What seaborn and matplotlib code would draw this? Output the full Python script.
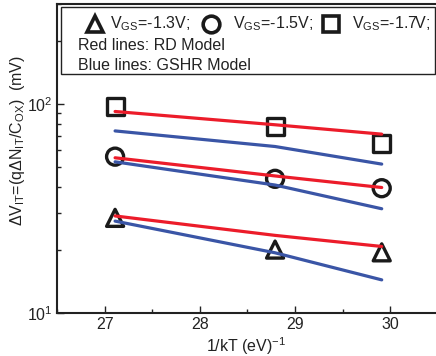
import matplotlib
matplotlib.use("Agg")
import matplotlib.pyplot as plt
from matplotlib.patches import Rectangle
from matplotlib.ticker import LogLocator, MultipleLocator, NullFormatter
import seaborn as sns
import pandas as pd

# ---- data ----
inv_kT = [27.11, 28.79, 29.91]
meas_13 = [28.5, 20.1, 19.5]
meas_15 = [55.9, 43.8, 39.5]
meas_17 = [96.7, 77.9, 64.9]
rd_13 = [29.1, 23.5, 20.8]
rd_15 = [55.2, 45.2, 39.8]
rd_17 = [91.9, 79.4, 71.6]
gshr_13 = [27.5, 19.4, 14.4]
gshr_15 = [52.8, 40.9, 31.5]
gshr_17 = [74.2, 62.5, 51.5]
vgs_labels = ["-1.3", "-1.5", "-1.7"]

sns.set_theme(style="ticks")
plt.rcParams["font.family"] = ["Liberation Sans", "DejaVu Sans"]
plt.rcParams["mathtext.default"] = "regular"
plt.rcParams["mathtext.fontset"] = "custom"
plt.rcParams["mathtext.rm"] = "Liberation Sans"
plt.rcParams["mathtext.it"] = "Liberation Sans"

FS = 11.5
fig = plt.figure(figsize=(4.36, 3.56), dpi=100)
ax = fig.add_axes([57 / 436, 1 - 313 / 356, 1 - 57 / 436, (313 - 4) / 356])

RED = "#ec1c2a"
BLUE = "#3a55a6"
INK = "#222222"

markers = ["^", "o", "s"]
meas = [meas_13, meas_15, meas_17]
rds = [rd_13, rd_15, rd_17]
gshrs = [gshr_13, gshr_15, gshr_17]

for mk, m in zip(markers, meas):
    df = pd.DataFrame({"x": inv_kT, "y": m})
    sns.scatterplot(data=df, x="x", y="y", ax=ax, marker=mk, s=150,
                    facecolor="none", edgecolor="#1a1a1a", linewidth=2.4,
                    zorder=2)

for r in rds:
    df = pd.DataFrame({"x": inv_kT, "y": r})
    sns.lineplot(data=df, x="x", y="y", ax=ax, color=RED, linewidth=2.3,
                 zorder=3)
for g in gshrs:
    df = pd.DataFrame({"x": inv_kT, "y": g})
    sns.lineplot(data=df, x="x", y="y", ax=ax, color=BLUE, linewidth=2.3,
                 zorder=3)

ax.set_yscale("log")
ax.set_ylim(10, 300)
ax.set_xlim(26.5, 30.48)
ax.xaxis.set_major_locator(MultipleLocator(1))
ax.xaxis.set_minor_locator(MultipleLocator(0.5))
ax.yaxis.set_minor_locator(LogLocator(base=10, subs=range(2, 10)))
ax.yaxis.set_minor_formatter(NullFormatter())

ax.tick_params(which="both", direction="in", colors=INK,
               labelsize=FS, labelcolor=INK)
ax.tick_params(which="major", length=5, width=1, pad=3)
ax.tick_params(which="minor", length=3, width=1)
for side in ["left", "bottom", "top"]:
    ax.spines[side].set_linewidth(1.5)
    ax.spines[side].set_color(INK)
ax.spines["right"].set_visible(False)

ax.set_xlabel(r"1/kT (eV)$^{-1}$", fontsize=FS, color=INK, labelpad=2)
ax.set_ylabel(r"$\Delta$V$_{IT}$=(q$\Delta$N$_{IT}$/C$_{OX}$)  (mV)",
              fontsize=FS, color=INK)
ax.yaxis.set_label_coords((27 - 57) / 379, (313 - 141) / 309)

# ---- legend box (custom) ----
def fx(px):
    return (px - 57) / (436 - 57)

def fy(py):
    return (313 - py) / (313 - 4)

ax.add_patch(Rectangle((fx(61), fy(74)), fx(435) - fx(61), fy(7) - fy(74),
                       transform=ax.transAxes, fill=False,
                       edgecolor=INK, linewidth=1.0, zorder=5))
mk_x = [95, 211, 331]
tx_x = [110, 233, 352]
for mk, mx, tx, lab in zip(markers, mk_x, tx_x, vgs_labels):
    ax.plot([fx(mx)], [fy(24)], marker=mk, ms=12, mfc="none", mec="#1a1a1a",
            mew=2.6, transform=ax.transAxes, zorder=6, clip_on=False)
    ax.text(fx(tx), fy(24), r"V$_{GS}$=" + lab + "V;", transform=ax.transAxes,
            fontsize=FS, va="center", ha="left", color=INK, zorder=6)
ax.text(fx(78), fy(46), "Red lines: RD Model", transform=ax.transAxes,
        fontsize=FS, va="center", ha="left", color=INK, zorder=6)
ax.text(fx(78), fy(65), "Blue lines: GSHR Model", transform=ax.transAxes,
        fontsize=FS, va="center", ha="left", color=INK, zorder=6)

fig.savefig("out.png", dpi=100)
